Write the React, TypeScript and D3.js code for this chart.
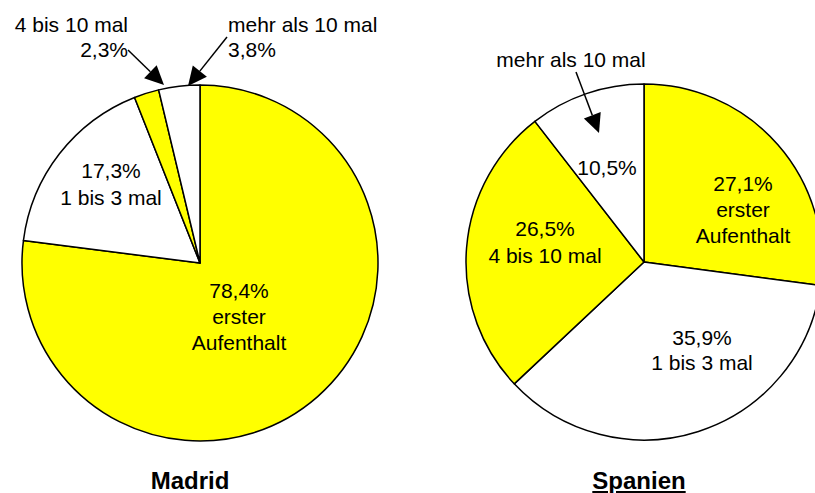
import { useEffect, useRef } from 'react';
import * as d3 from 'd3';

// Slice data, in drawing order (clockwise from 12 o'clock)
const categories = ['erster Aufenthalt', '1 bis 3 mal', '4 bis 10 mal', 'mehr als 10 mal'];
const madridValues = [78.4, 17.3, 2.3, 3.8];
const spanienValues = [27.1, 35.9, 26.5, 10.5];
const sliceColors = ['#ffff00', '#ffffff', '#ffff00', '#ffffff'];
const pieTitles = ['Madrid', 'Spanien'];

const W = 815;
const H = 493;
const R = 178;

const fmt = (v: number) => v.toFixed(1).replace('.', ',') + '%';

const App = () => {
  const svgRef = useRef<SVGSVGElement>(null);

  useEffect(() => {
    if (!svgRef.current) return;
    const svg = d3.select(svgRef.current);
    svg.selectAll('*').remove();

    const pie = d3.pie<number>().sort(null).value(d => d);
    const arc = d3.arc<d3.PieArcDatum<number>>().innerRadius(0).outerRadius(R);

    const font = '"Liberation Sans", Arial, sans-serif';

    const drawPie = (cx: number, cy: number, values: number[]) => {
      const g = svg.append('g').attr('transform', `translate(${cx},${cy})`);
      g.selectAll('path')
        .data(pie(values))
        .enter()
        .append('path')
        .attr('d', arc)
        .attr('fill', (d, i) => sliceColors[i])
        .attr('stroke', '#000')
        .attr('stroke-width', 1.5)
        .attr('stroke-linejoin', 'round');
      return g;
    };

    const addLines = (g: any, x: number, y: number, lines: string[], anchor = 'middle', lh = 26) => {
      const t = g.append('text')
        .attr('x', x)
        .attr('y', y)
        .attr('text-anchor', anchor)
        .style('font-family', font)
        .style('font-size', '21px')
        .style('fill', '#000');
      lines.forEach((s, i) => {
        t.append('tspan').attr('x', x).attr('dy', i === 0 ? 0 : lh).text(s);
      });
    };

    // pointer line with a filled triangular head
    const arrow = (x1: number, y1: number, x2: number, y2: number) => {
      const ang = Math.atan2(y2 - y1, x2 - x1);
      const len = 19;
      const hw = 9;
      const bx = x2 - len * Math.cos(ang);
      const by = y2 - len * Math.sin(ang);
      svg.append('line')
        .attr('x1', x1).attr('y1', y1).attr('x2', bx).attr('y2', by)
        .attr('stroke', '#000').attr('stroke-width', 1.5);
      svg.append('path')
        .attr('d', `M${x2},${y2}L${bx + hw * Math.sin(ang)},${by - hw * Math.cos(ang)}L${bx - hw * Math.sin(ang)},${by + hw * Math.cos(ang)}Z`)
        .attr('fill', '#000');
    };

    // Madrid
    const mCx = 200, mCy = 263;
    const gm = drawPie(mCx, mCy, madridValues);
    addLines(gm, 39, 35, [fmt(madridValues[0]), 'erster', 'Aufenthalt']);
    addLines(gm, -89, -85, [fmt(madridValues[1]), categories[1]], 'middle', 27);
    addLines(svg, 128, 32, [categories[2], fmt(madridValues[2])], 'end', 25);
    addLines(svg, 228, 32, [categories[3], fmt(madridValues[3])], 'start', 25);
    arrow(128, 50, 164, 85);
    arrow(227, 37, 188, 86);

    // Spanien
    const sCx = 644, sCy = 262;
    const gs = drawPie(sCx, sCy, spanienValues);
    addLines(gs, 99, -71, [fmt(spanienValues[0]), 'erster', 'Aufenthalt']);
    addLines(gs, 58, 83, [fmt(spanienValues[1]), categories[1]], 'middle', 25);
    addLines(gs, -99, -26, [fmt(spanienValues[2]), categories[2]], 'middle', 27);
    addLines(gs, -37, -87, [fmt(spanienValues[3])]);
    addLines(svg, 571, 67, [categories[3]]);
    arrow(576, 72, 599, 133);

    // Titles
    [[190, pieTitles[0], 'none'], [639, pieTitles[1], 'underline']].forEach(([x, s, deco]) => {
      svg.append('text')
        .attr('x', x as number)
        .attr('y', 489)
        .attr('text-anchor', 'middle')
        .style('font-family', font)
        .style('font-size', '24px')
        .style('font-weight', 'bold')
        .style('text-decoration', deco as string)
        .text(s as string);
    });
  }, []);

  return (
    <svg
      ref={svgRef}
      width={W}
      height={H}
      style={{ position: 'absolute', left: 0, top: 0, background: '#fff' }}
    />
  );
};

export default App;
